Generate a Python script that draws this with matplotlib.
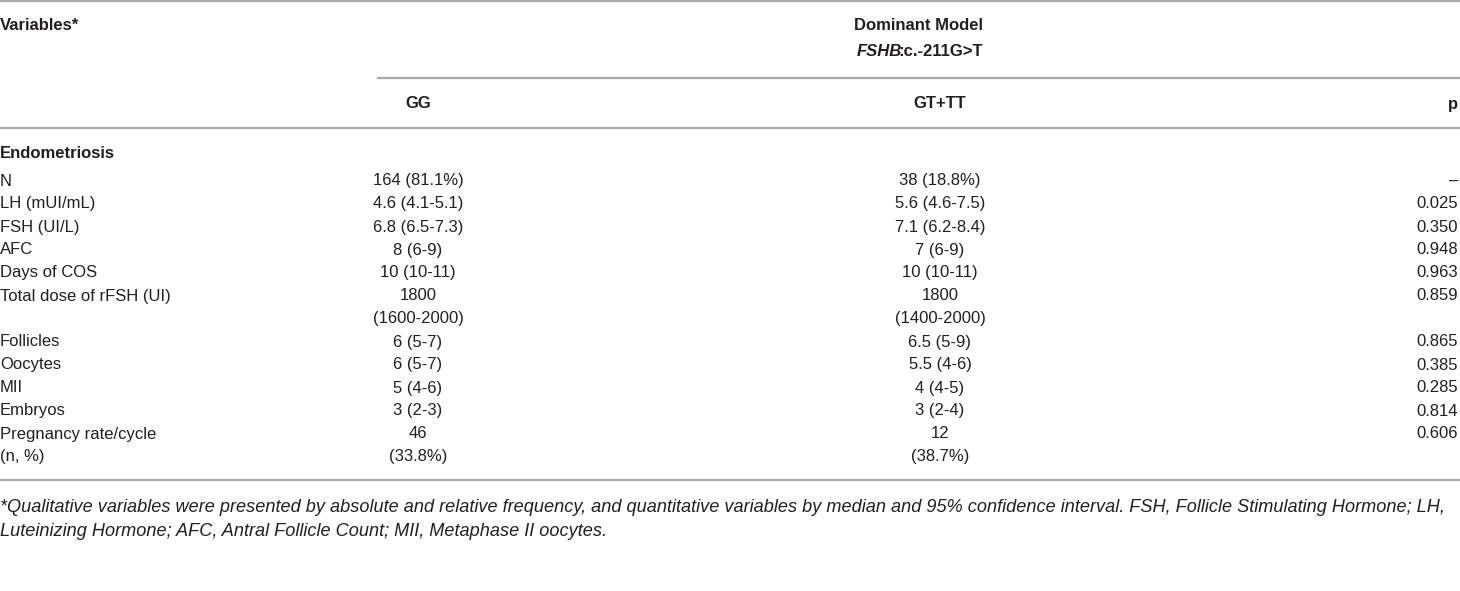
import matplotlib
matplotlib.use("Agg")
import matplotlib.pyplot as plt
from matplotlib.lines import Line2D

plt.rcParams['font.family'] = ['Liberation Sans', 'DejaVu Sans']

W, H = 1460, 591
TXT = '#231f20'
RULE = '#a7a9ac'
FS = 12

# table data (empty strings = continuation lines)
variables = ["N", "LH (mUI/mL)", "FSH (UI/L)", "AFC", "Days of COS",
             "Total dose of rFSH (UI)", "", "Follicles", "Oocytes", "MII",
             "Embryos", "Pregnancy rate/cycle", "(n, %)"]
gg = ["164 (81.1%)", "4.6 (4.1-5.1)", "6.8 (6.5-7.3)", "8 (6-9)", "10 (10-11)",
      "1800", "(1600-2000)", "6 (5-7)", "6 (5-7)", "5 (4-6)", "3 (2-3)",
      "46", "(33.8%)"]
gt_tt = ["38 (18.8%)", "5.6 (4.6-7.5)", "7.1 (6.2-8.4)", "7 (6-9)", "10 (10-11)",
         "1800", "(1400-2000)", "6.5 (5-9)", "5.5 (4-6)", "4 (4-5)", "3 (2-4)",
         "12", "(38.7%)"]
pvals = ["\u2013", "0.025", "0.350", "0.948", "0.963", "0.859", "",
         "0.865", "0.385", "0.285", "0.814", "0.606", ""]

footnote = ["*Qualitative variables were presented by absolute and relative frequency, and quantitative variables by median and 95% confidence interval. FSH, Follicle Stimulating Hormone; LH,",
            "Luteinizing Hormone; AFC, Antral Follicle Count; MII, Metaphase II oocytes."]

fig = plt.figure(figsize=(W / 100, H / 100), dpi=100)


def fx(px):
    return px / W


def fy(py):
    return 1 - py / H


def txt(x, y, s, ha='left', size=FS, **kw):
    return fig.text(fx(x), fy(y), s, ha=ha, va='center', fontsize=size, color=TXT, **kw)


def rule(x0, x1, y):
    fig.add_artist(Line2D([fx(x0), fx(x1)], [fy(y), fy(y)], color=RULE, lw=1.6))


col_gg, col_gt, col_p = 418, 940, 1458

rule(0, W, 1)
txt(0, 25, "Variables*", weight='bold')
txt(918, 25, "Dominant Model", ha='center', weight='bold')

# FSHB (bold italic) + ":c.-211G>T" (bold), centred as one piece
fig.canvas.draw()
r = fig.canvas.get_renderer()
a = txt(0, 52, "FSHB", weight='bold', style='italic')
b = txt(0, 52, ":c.-211G>T", weight='bold')
wa = a.get_window_extent(r).width - 3
wb = b.get_window_extent(r).width
x0 = 920 - (wa + wb) / 2
a.set_x(fx(x0))
b.set_x(fx(x0 + wa))

rule(378, W, 78)
txt(col_gg, 104, "GG", ha='center', weight='bold')
txt(col_gt, 104, "GT+TT", ha='center', weight='bold')
txt(col_p, 104, "p", ha='right', weight='bold')
rule(0, W, 128)

txt(0, 153, "Endometriosis", weight='bold')
y0, dy = 181, 23
for i in range(len(variables)):
    y = y0 + i * dy
    txt(0, y, variables[i])
    txt(col_gg, y, gg[i], ha='center')
    txt(col_gt, y, gt_tt[i], ha='center')
    txt(col_p, y, pvals[i], ha='right')

rule(0, W, 480)
txt(0, 508, footnote[0], style='italic', size=13.05)
txt(0, 532, footnote[1], style='italic', size=13.05)

fig.savefig("out.png", dpi=100, facecolor='white')
